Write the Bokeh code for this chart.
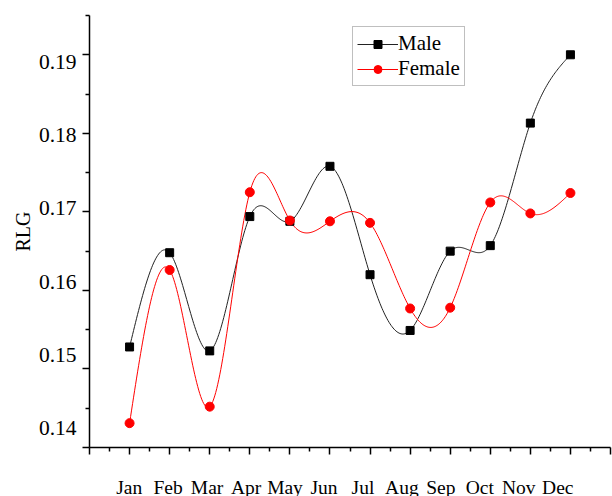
import numpy as np
from bokeh.plotting import figure
from bokeh.models import Range1d, LinearAxis, FixedTicker, Legend, LegendItem
from bokeh.embed import file_html
from bokeh.resources import INLINE

# ---- data ----
months = ["Jan", "Feb", "Mar", "Apr", "May", "Jun",
          "Jul", "Aug", "Sep", "Oct", "Nov", "Dec"]
month_pos = [1, 2, 3, 4, 5, 6, 7, 8, 9, 10, 11, 12]
male = [0.1528, 0.1648, 0.1523, 0.1694, 0.1688, 0.1758,
        0.1620, 0.1549, 0.1650, 0.1657, 0.1813, 0.1900]
female = [0.1431, 0.1626, 0.1452, 0.1725, 0.1689, 0.1688,
          0.1686, 0.1577, 0.1578, 0.1712, 0.1698, 0.1724]
y_ticks = [0.14, 0.15, 0.16, 0.17, 0.18, 0.19]
y_tick_labels = ["0.14", "0.15", "0.16", "0.17", "0.18", "0.19"]
x_ticks = list(range(0, 14))

FONT = "Liberation Serif"


def natural_spline(xs, ys, n=40):
    """Smooth connecting curve (natural cubic spline) through the data points."""
    xs = np.asarray(xs, float)
    ys = np.asarray(ys, float)
    k = len(xs)
    h = np.diff(xs)
    A = np.zeros((k, k))
    r = np.zeros(k)
    A[0, 0] = A[-1, -1] = 1.0
    for i in range(1, k - 1):
        A[i, i - 1] = h[i - 1]
        A[i, i] = 2 * (h[i - 1] + h[i])
        A[i, i + 1] = h[i]
        r[i] = 6 * ((ys[i + 1] - ys[i]) / h[i] - (ys[i] - ys[i - 1]) / h[i - 1])
    M = np.linalg.solve(A, r)
    out_x, out_y = [], []
    for i in range(k - 1):
        t = np.linspace(xs[i], xs[i + 1], n, endpoint=(i == k - 2))
        a = xs[i + 1] - t
        b = t - xs[i]
        y = ((M[i] * a ** 3 + M[i + 1] * b ** 3) / (6 * h[i])
             + (ys[i] / h[i] - M[i] * h[i] / 6) * a
             + (ys[i + 1] / h[i] - M[i + 1] * h[i] / 6) * b)
        out_x.extend(t.tolist())
        out_y.extend(y.tolist())
    return out_x, out_y


p = figure(frame_width=521, frame_height=432,
           x_range=Range1d(0, 13), y_range=Range1d(0.14, 0.195),
           x_axis_type=None, y_axis_type=None,
           output_backend="svg", toolbar_location=None,
           min_border_left=89, min_border_right=2,
           min_border_top=15, min_border_bottom=49)
p.outline_line_color = None
p.background_fill_color = "white"
p.border_fill_color = "white"

# In the reference the printed tick labels sit on a slightly different
# scale than the tick marks; a label-only axis reproduces that placement.
p.extra_y_ranges = {"ylab": Range1d(0.137396, 0.196308)}
p.extra_x_ranges = {"xlab": Range1d(-0.018, 13.354)}


def tick_axis(majors, minors):
    """Axis line with major/minor tick marks; its own labels are switched off."""
    ax = LinearAxis(ticker=FixedTicker(ticks=majors, minor_ticks=minors))
    ax.axis_line_width = 1.5
    ax.axis_line_color = "black"
    ax.major_tick_line_width = 1.5
    ax.minor_tick_line_width = 1.5
    ax.major_tick_line_color = "black"
    ax.minor_tick_line_color = "black"
    ax.major_tick_in = 0
    ax.major_tick_out = 7
    ax.minor_tick_in = 0
    ax.minor_tick_out = 4
    ax.major_label_text_color = None
    ax.major_label_standoff = 0
    return ax


def style_label_axis(ax, size, standoff):
    ax.axis_line_color = None
    ax.major_tick_line_color = None
    ax.minor_tick_line_color = None
    ax.major_tick_in = 0
    ax.major_tick_out = 0
    ax.minor_tick_in = 0
    ax.minor_tick_out = 0
    ax.major_label_text_font = FONT
    ax.major_label_text_font_size = size
    ax.major_label_text_color = "black"
    ax.major_label_standoff = standoff


# y axis: tick marks, then labels
p.add_layout(tick_axis(y_ticks, [t + 0.005 for t in y_ticks]), "left")

y_label_axis = LinearAxis(y_range_name="ylab", ticker=FixedTicker(ticks=y_ticks),
                          major_label_overrides=dict(zip(y_ticks, y_tick_labels)))
style_label_axis(y_label_axis, "21.5px", 6)
y_label_axis.axis_label = "RLG"
y_label_axis.axis_label_text_font = FONT
y_label_axis.axis_label_text_font_size = "20px"
y_label_axis.axis_label_text_font_style = "normal"
y_label_axis.axis_label_text_color = "black"
y_label_axis.axis_label_standoff = 2
p.add_layout(y_label_axis, "left")

# x axis: tick marks, then month labels
p.add_layout(tick_axis(x_ticks, [t + 0.5 for t in x_ticks[:-1]]), "below")

x_label_axis = LinearAxis(x_range_name="xlab", ticker=FixedTicker(ticks=month_pos),
                          major_label_overrides=dict(zip(month_pos, months)))
style_label_axis(x_label_axis, "19.5px", 22)
p.add_layout(x_label_axis, "below")

# series
mx, my = natural_spline(month_pos, male)
fx, fy = natural_spline(month_pos, female)

male_line = p.line(mx, my, line_color="#222222", line_width=1)
female_line = p.line(fx, fy, line_color="#ff0000", line_width=1)
male_pts = p.scatter(month_pos, male, marker="square", size=8,
                     fill_color="black", line_color="black")
female_pts = p.scatter(month_pos, female, marker="circle", size=9,
                       fill_color="#ff0000", line_color="#ff0000")

legend = Legend(items=[LegendItem(label="Male", renderers=[male_line, male_pts]),
                       LegendItem(label="Female", renderers=[female_line, female_pts])],
                location=(263, 361), padding=4, margin=0, spacing=0,
                glyph_width=41, glyph_height=20, label_height=20,
                label_standoff=0, label_text_font=FONT,
                label_text_font_size="21px", label_text_color="black",
                border_line_color="#808080", border_line_width=1.5,
                background_fill_color="white", background_fill_alpha=1)
p.add_layout(legend)

open("out.html", "w").write(file_html(p, INLINE))
